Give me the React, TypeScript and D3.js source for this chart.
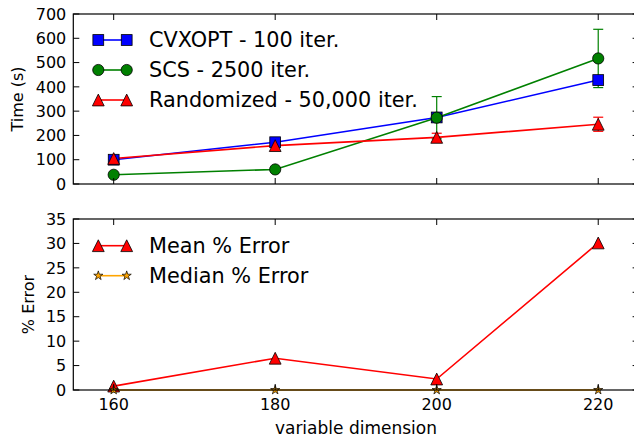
import React from 'react';
import * as d3 from 'd3';

const dims = [160, 180, 200, 220];

const cvxoptTime = [100, 172, 274, 428];
const cvxoptErr = [0, 0, 0, 0];
const scsTime = [38, 60, 273, 517];
const scsErr = [0, 0, 87, 120];
const randTime = [105, 158, 192, 246];
const randErr = [0, 0, 17, 29];

const meanErr = [0.8, 6.5, 2.25, 30.1];
const medianErr = [0, 0, 0, 0];

const timeTicks = [0, 100, 200, 300, 400, 500, 600, 700];
const errTicks = [0, 5, 10, 15, 20, 25, 30, 35];

const topSeries = [
  { name: 'CVXOPT - 100 iter.', values: cvxoptTime, err: cvxoptErr, color: '#0000ff', marker: 'square' },
  { name: 'SCS - 2500 iter.', values: scsTime, err: scsErr, color: '#008000', marker: 'circle' },
  { name: 'Randomized - 50,000 iter.', values: randTime, err: randErr, color: '#ff0000', marker: 'triangle' },
];
const bottomSeries = [
  { name: 'Mean % Error', values: meanErr, color: '#ff0000', marker: 'triangle' },
  { name: 'Median % Error', values: medianErr, color: '#ffa500', marker: 'star' },
];

const font = 'DejaVu Sans, sans-serif';
const left = 73.3;
const right = 638.6;
const tickLen = 6;
const tickFont = 16;
const labelFont = 16;
const legendFont = 20.8;

function Marker({ type, x, y, color }: { type: string; x: number; y: number; color: string }) {
  if (type === 'square') {
    return <rect x={x - 5.4} y={y - 5.4} width={10.8} height={10.8} fill={color} stroke="#000" strokeWidth={0.8} />;
  }
  if (type === 'circle') {
    return <circle cx={x} cy={y} r={5.6} fill={color} stroke="#000" strokeWidth={0.8} />;
  }
  if (type === 'triangle') {
    const r = 5.9;
    return (
      <path d={`M${x},${y - r}L${x - r},${y + r}L${x + r},${y + r}Z`} fill={color} stroke="#000" strokeWidth={0.8} />
    );
  }
  const star = d3.symbol(d3.symbolStar, 26)();
  return <path d={star || ''} transform={`translate(${x},${y})`} fill={color} stroke="#000" strokeWidth={0.7} />;
}

function Panel({ top, bottom, yMax, ticks, series, label, labelX, legendY, showX }: any) {
  const x = d3.scaleLinear().domain([155, 225]).range([left, right]);
  const y = d3.scaleLinear().domain([0, yMax]).range([bottom, top]);
  const line = d3.line<number>().x((_, i) => x(dims[i])).y((d) => y(d));
  return (
    <g>
      {series.map((s: any) => (
        <g key={s.name}>
          <path d={line(s.values) || ''} fill="none" stroke={s.color} strokeWidth={1.6} />
          {s.err &&
            s.values.map((v: number, i: number) =>
              s.err[i] > 0 ? (
                <g key={i} stroke={s.color} strokeWidth={1.2}>
                  <line x1={x(dims[i])} x2={x(dims[i])} y1={y(v - s.err[i])} y2={y(v + s.err[i])} />
                  <line x1={x(dims[i]) - 5} x2={x(dims[i]) + 5} y1={y(v - s.err[i])} y2={y(v - s.err[i])} />
                  <line x1={x(dims[i]) - 5} x2={x(dims[i]) + 5} y1={y(v + s.err[i])} y2={y(v + s.err[i])} />
                </g>
              ) : null
            )}
        </g>
      ))}
      {series.map((s: any) => (
        <g key={s.name + 'm'}>
          {s.values.map((v: number, i: number) => (
            <Marker key={i} type={s.marker} x={x(dims[i])} y={y(v)} color={s.color} />
          ))}
        </g>
      ))}
      <rect x={left} y={top} width={right - left} height={bottom - top} fill="none" stroke="#000" strokeWidth={1.2} />
      {ticks.map((t: number) => (
        <g key={t}>
          <line x1={left} x2={left + tickLen} y1={y(t)} y2={y(t)} stroke="#000" />
          <line x1={right} x2={right - tickLen} y1={y(t)} y2={y(t)} stroke="#000" />
          <text x={left - 7} y={y(t)} dy="0.36em" textAnchor="end" fontSize={tickFont} fontFamily={font} fill="#000">
            {t}
          </text>
        </g>
      ))}
      {dims.map((d) => (
        <g key={d}>
          <line x1={x(d)} x2={x(d)} y1={bottom} y2={bottom - tickLen} stroke="#000" />
          <line x1={x(d)} x2={x(d)} y1={top} y2={top + tickLen} stroke="#000" />
          {showX && (
            <text x={x(d)} y={bottom + 20} textAnchor="middle" fontSize={tickFont} fontFamily={font} fill="#000">
              {d}
            </text>
          )}
        </g>
      ))}
      <text
        transform={`translate(${labelX},${(top + bottom) / 2}) rotate(-90)`}
        textAnchor="middle"
        dy="0.36em"
        fontSize={labelFont}
        fontFamily={font}
        fill="#000"
      >
        {label}
      </text>
      {series.map((s: any, i: number) => {
        const ly = legendY + i * 30;
        return (
          <g key={s.name + 'l'}>
            <line x1={98.3} x2={126.7} y1={ly} y2={ly} stroke={s.color} strokeWidth={1.6} />
            <Marker type={s.marker} x={98.3} y={ly} color={s.color} />
            <Marker type={s.marker} x={126.7} y={ly} color={s.color} />
            <text x={149} y={ly} dy="0.36em" fontSize={legendFont} fontFamily={font} fill="#000">
              {s.name}
            </text>
          </g>
        );
      })}
    </g>
  );
}

export default function App() {
  return (
    <svg
      width={634}
      height={441}
      style={{ position: 'absolute', left: 0, top: 0, background: '#fff' }}
    >
      <rect width={634} height={441} fill="#fff" />
      <Panel top={14} bottom={184} yMax={700} ticks={timeTicks} series={topSeries} label="Time (s)" labelX={17} legendY={40} showX={false} />
      <Panel top={219} bottom={390} yMax={35} ticks={errTicks} series={bottomSeries} label="% Error" labelX={28} legendY={245.7} showX={true} />
      <text x={(left + right) / 2} y={434} textAnchor="middle" fontSize={17} fontFamily={font} fill="#000">
        variable dimension
      </text>
    </svg>
  );
}
